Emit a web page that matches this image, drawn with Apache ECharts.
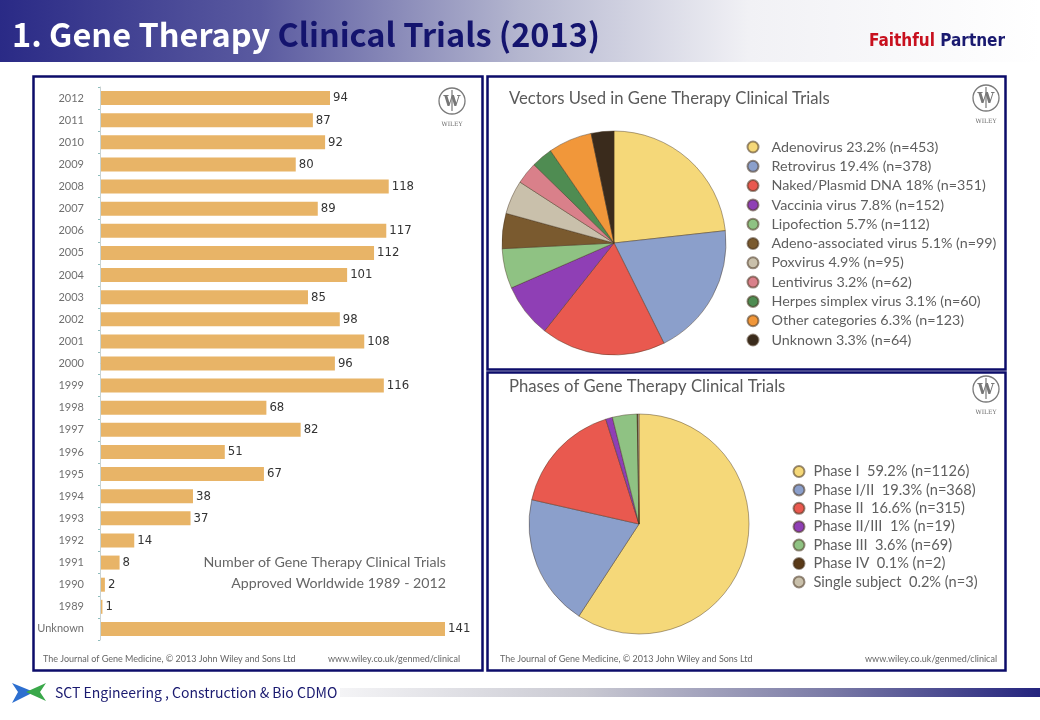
<!DOCTYPE html>
<html>
<head>
<meta charset="utf-8">
<script src="https://cdn.jsdelivr.net/npm/echarts@6/dist/echarts.min.js"></script>
<style>
html,body{margin:0;padding:0;background:#fff;}
#c{width:1040px;height:720px;}
</style>
</head>
<body>
<div id="c"></div>
<script>
// ---- Data ----
const years = ['2012','2011','2010','2009','2008','2007','2006','2005','2004','2003','2002','2001','2000','1999','1998','1997','1996','1995','1994','1993','1992','1991','1990','1989','Unknown'];
const trials = [94,87,92,80,118,89,117,112,101,85,98,108,96,116,68,82,51,67,38,37,14,8,2,1,141];

const vectorNames = ['Adenovirus','Retrovirus','Naked/Plasmid DNA','Vaccinia virus','Lipofection','Adeno-associated virus','Poxvirus','Lentivirus','Herpes simplex virus','Other categories','Unknown'];
const vectorPct = ['23.2','19.4','18','7.8','5.7','5.1','4.9','3.2','3.1','6.3','3.3'];
const vectorN = [453,378,351,152,112,99,95,62,60,123,64];
const vectorColors = ['#f5d879','#8b9fcb','#e9594f','#8f3fb5','#8fc283','#7a5a2f','#c9c0ab','#d9808a','#4f8c52','#f1973a','#3a2b1c'];

const phaseNames = ['Phase I','Phase I/II','Phase II','Phase II/III','Phase III','Phase IV','Single subject'];
const phasePct = ['59.2','19.3','16.6','1','3.6','0.1','0.2'];
const phaseN = [1126,368,315,19,69,2,3];
const phaseColors = ['#f5d879','#8b9fcb','#e9594f','#8f3fb5','#8fc283','#5a3a18','#c9c0ab'];

const gothic = "Lato, 'Open Sans', sans-serif";
const narrow = "'Liberation Sans Narrow','DejaVu Sans Condensed',sans-serif";

function wileyLogo(cx, cy) {
  return [
    {type:'circle', z:5, shape:{cx:cx, cy:cy, r:13}, style:{fill:'none', stroke:'#7a7a7a', lineWidth:1.3}},
    {type:'text', z:5, style:{text:'W', x:cx, y:cy+1, align:'center', verticalAlign:'middle', font:"bold 15px 'DejaVu Serif', serif", fill:'#777'}},
    {type:'line', z:5, shape:{x1:cx, y1:cy-11, x2:cx, y2:cy+10}, style:{stroke:'#777', lineWidth:1.2}},
    {type:'text', z:5, style:{text:'WILEY', x:cx, y:cy+23, align:'center', verticalAlign:'middle', font:"6px 'DejaVu Serif', serif", fill:'#666'}}
  ];
}

const graphics = [
  // header gradient
  {type:'rect', z:-1, shape:{x:0, y:0, width:1040, height:62},
   style:{fill:new echarts.graphic.LinearGradient(0,0,1,0,[
     {offset:0, color:'#2a2a86'},{offset:0.25, color:'#5a5aa0'},{offset:0.5, color:'#b4b6cf'},{offset:0.72, color:'#f1f1f5'},{offset:1, color:'#ffffff'}])}},
  {type:'text', z:6, style:{
     text:'{a|1. Gene Therapy }{b|Clinical Trials (2013)}', x:12, y:35, verticalAlign:'middle',
     rich:{a:{fill:'#ffffff', font:"bold 32.5px 'Noto Sans CJK KR', sans-serif"},
           b:{fill:'#14146e', font:"bold 32.5px 'Noto Sans CJK KR', sans-serif"}}}},
  {type:'text', z:6, style:{
     text:'{a|Faithful }{b|Partner}', x:1005, y:42, align:'right', verticalAlign:'middle',
     rich:{a:{fill:'#c8101e', font:"bold 17px "+narrow},
           b:{fill:'#1a1a70', font:"bold 17px "+narrow}}}},
  // panels
  {type:'rect', z:-1, shape:{x:33.5, y:76.5, width:449, height:594}, style:{fill:'#ffffff', stroke:'#0c0c6a', lineWidth:2.5}},
  {type:'rect', z:-1, shape:{x:487.5, y:76.5, width:518, height:293}, style:{fill:'#ffffff', stroke:'#0c0c6a', lineWidth:2.5}},
  {type:'rect', z:-1, shape:{x:487.5, y:372.5, width:518, height:298}, style:{fill:'#ffffff', stroke:'#0c0c6a', lineWidth:2.5}},
  // panel texts
  {type:'text', z:6, style:{text:'Number of Gene Therapy Clinical Trials', x:446, y:562, align:'right', verticalAlign:'middle', font:"14.2px "+gothic, fill:'#666'}},
  {type:'text', z:6, style:{text:'Approved Worldwide 1989 - 2012', x:446, y:583, align:'right', verticalAlign:'middle', font:"14.2px "+gothic, fill:'#666'}},
  {type:'text', z:6, style:{text:'The Journal of Gene Medicine, \u00a9 2013 John Wiley and Sons Ltd', x:43, y:659, verticalAlign:'middle', font:"9px "+gothic, fill:'#666'}},
  {type:'text', z:6, style:{text:'www.wiley.co.uk/genmed/clinical', x:460, y:659, align:'right', verticalAlign:'middle', font:"9px "+gothic, fill:'#666'}},
  {type:'text', z:6, style:{text:'Vectors Used in Gene Therapy Clinical Trials', x:509, y:99, verticalAlign:'middle', font:"16.7px "+gothic, fill:'#5a5a5a'}},
  {type:'text', z:6, style:{text:'Phases of Gene Therapy Clinical Trials', x:509, y:387, verticalAlign:'middle', font:"16.7px "+gothic, fill:'#5a5a5a'}},
  {type:'text', z:6, style:{text:'The Journal of Gene Medicine, \u00a9 2013 John Wiley and Sons Ltd', x:500, y:659, verticalAlign:'middle', font:"9px "+gothic, fill:'#666'}},
  {type:'text', z:6, style:{text:'www.wiley.co.uk/genmed/clinical', x:997, y:659, align:'right', verticalAlign:'middle', font:"9px "+gothic, fill:'#666'}},
  // footer
  {type:'rect', z:-1, shape:{x:340, y:688, width:700, height:9},
   style:{fill:new echarts.graphic.LinearGradient(0,0,1,0,[
     {offset:0, color:'#f4f4f6'},{offset:0.35, color:'#c9c9d2'},{offset:0.7, color:'#7a7aa6'},{offset:1, color:'#24247e'}])}},
  {type:'polygon', z:6, shape:{points:[[12,683],[34,692],[12,703],[18,692]]}, style:{fill:'#2d6fd0'}},
  {type:'polygon', z:6, shape:{points:[[46,683],[26,692],[46,701],[40,692]]}, style:{fill:'#3aa84a'}},
  {type:'text', z:6, style:{text:'SCT Engineering , Construction & Bio CDMO', x:55, y:693, verticalAlign:'middle', font:"14px 'Noto Sans CJK KR', sans-serif", fill:'#1a1a70'}}
].concat(wileyLogo(452, 101), wileyLogo(986, 98), wileyLogo(986, 389));

const option = {
  animation: false,
  backgroundColor: '#ffffff',
  graphic: graphics,
  grid: {left:100, top:87, width:345, height:553, containLabel:false},
  xAxis: {type:'value', min:0, max:141, show:false},
  yAxis: {type:'category', data:years, inverse:true, z:10,
    axisLine:{show:true, lineStyle:{color:'#c9d3d3', width:1}},
    axisTick:{show:true, length:2, lineStyle:{color:'#8fbcbc'}},
    axisLabel:{color:'#707070', fontFamily:gothic, fontSize:11, margin:16}},
  legend: [
    {data:vectorNames, orient:'vertical', left:741.5, top:135, itemWidth:11, itemHeight:11, itemGap:5.3, icon:'circle',
     selectedMode:false, z:10,
     formatter: function(name){ const i = vectorNames.indexOf(name); return name + ' ' + vectorPct[i] + '% (n=' + vectorN[i] + ')'; },
     textStyle:{color:'#5f5f5f', fontFamily:gothic, fontSize:14.3, lineHeight:14, padding:[0,0,0,8]}},
    {data:phaseNames, orient:'vertical', left:787.5, top:459, itemWidth:11, itemHeight:11, itemGap:3.4, icon:'circle',
     selectedMode:false, z:10,
     formatter: function(name){ const i = phaseNames.indexOf(name); return name + '  ' + phasePct[i] + '% (n=' + phaseN[i] + ')'; },
     textStyle:{color:'#5f5f5f', fontFamily:gothic, fontSize:14.6, lineHeight:14, padding:[0,0,0,4]}}
  ],
  series: [
    {type:'bar', data:trials, barWidth:14, z:3,
     itemStyle:{color:'#e8b467'},
     label:{show:true, position:'right', distance:3, color:'#333', fontFamily:narrow, fontSize:13},
     emphasis:{disabled:true}, silent:true},
    {type:'pie', center:[614,243], radius:112, startAngle:90, clockwise:true, z:3,
     label:{show:false}, labelLine:{show:false}, silent:true, emphasis:{disabled:true},
     itemStyle:{borderColor:'rgba(70,50,30,0.55)', borderWidth:0.8},
     data: vectorNames.map((n,i)=>({name:n, value:vectorN[i], itemStyle:{color:vectorColors[i]}}))},
    {type:'pie', center:[639,524], radius:110, startAngle:90, clockwise:true, z:3,
     label:{show:false}, labelLine:{show:false}, silent:true, emphasis:{disabled:true},
     itemStyle:{borderColor:'rgba(70,50,30,0.55)', borderWidth:0.8},
     data: phaseNames.map((n,i)=>({name:n, value:phaseN[i], itemStyle:{color:phaseColors[i]}}))}
  ]
};

const chart = echarts.init(document.getElementById('c'));
chart.setOption(option);
</script>
</body>
</html>
